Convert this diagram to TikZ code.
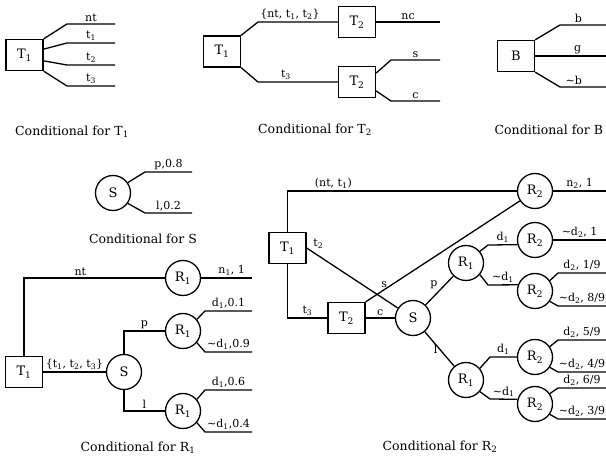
\documentclass[tikz,border=0pt]{standalone}
\usepackage{fontspec}
\setmainfont{DejaVu Serif}
\newcommand{\sbx}[1]{\textsubscript{#1}}
\begin{document}
\begin{tikzpicture}[x=1pt,y=-1pt, line width=1.3pt,
  box/.style={draw, minimum width=37pt, minimum height=31pt, inner sep=0pt, font=\fontsize{13}{15}\selectfont},
  circ/.style={draw, circle, minimum size=35pt, inner sep=0pt, font=\fontsize{13}{15}\selectfont},
  lab/.style={font=\fontsize{11}{13}\selectfont, inner sep=1.5pt},
  captxt/.style={font=\fontsize{12.5}{14}\selectfont, inner sep=0pt}]
\useasboundingbox (0,0) rectangle (606,462);

% ---------- Conditional for T1
\node[box] (aT) at (24.5,55) {T\sbx{1}};
\coordinate (a1) at (115,24);
\coordinate (a2) at (115,43);
\coordinate (a3) at (115,65);
\coordinate (a4) at (115,86);
\draw (aT.north east) -- (67,24) -- node[lab,above]{nt} (a1);
\draw (aT.17) -- (67,43) -- node[lab,above]{t\sbx{1}} (a2);
\draw (aT.-17) -- (67,65) -- node[lab,above]{t\sbx{2}} (a3);
\draw (aT.south east) -- (67,86) -- node[lab,above]{t\sbx{3}} (a4);
\node[captxt] (aC) at (72,132) {Conditional for T\sbx{1}};

% ---------- Conditional for T2
\node[box] (bT) at (222,51.5) {T\sbx{1}};
\node[box] (bU) at (357,22) {T\sbx{2}};
\node[box] (bV) at (357,82) {T\sbx{2}};
\coordinate (b1) at (440,22);
\coordinate (b2) at (440,60);
\coordinate (b3) at (440,101);
\draw (bT.north east) -- (258,22) -- node[lab,above,pos=0.4]{\{nt, t\sbx{1}, t\sbx{2}\}} (bU);
\draw (bT.south east) -- (258,82) -- node[lab,above,pos=0.35]{t\sbx{3}} (bV);
\draw (bU) -- node[lab,above]{nc} (b1);
\draw (bV.25) -- (391,60) -- node[lab,above]{s} (b2);
\draw (bV.-25) -- (391,101) -- node[lab,above]{c} (b3);
\node[captxt] (bC) at (315,130) {Conditional for T\sbx{2}};

% ---------- Conditional for B
\node[box] (cB) at (516,56) {B};
\coordinate (c1) at (606,25);
\coordinate (c2) at (606,56);
\coordinate (c3) at (606,87);
\draw (cB.north east) -- (560,25) -- node[lab,above,pos=0.4]{b} (c1);
\draw (cB) -- node[lab,above,pos=0.6]{g} (c2);
\draw (cB.south east) -- (560,87) -- node[lab,above,pos=0.3]{\textasciitilde b} (c3);
\node[captxt,anchor=west] (cC) at (494,130) {Conditional for B};

% ---------- Conditional for S
\node[circ] (dS) at (113,193) {S};
\coordinate (d1) at (192,172);
\coordinate (d2) at (192,213);
\draw (dS.35) -- (145,172) -- node[lab,above]{p,0.8} (d1);
\draw (dS.-35) -- (145,213) -- node[lab,above]{l,0.2} (d2);
\node[captxt] (dC) at (143,239) {Conditional for S};

% ---------- Conditional for R1
\node[box] (eT) at (24,372) {T\sbx{1}};
\node[circ] (eS) at (124,372) {S};
\node[circ] (eR1) at (183,278) {R\sbx{1}};
\node[circ] (eR2) at (183,331) {R\sbx{1}};
\node[circ] (eR3) at (183,411) {R\sbx{1}};
\coordinate (e1) at (252,278);
\coordinate (e2) at (252,311);
\coordinate (e3) at (252,352);
\coordinate (e4) at (252,390);
\coordinate (e5) at (252,432);
\draw (eT.north) -- (24,278) -- node[lab,above,pos=0.4]{nt} (eR1);
\draw (eT) -- node[lab,above]{\{t\sbx{1}, t\sbx{2}, t\sbx{3}\}} (eS);
\draw (eS.north) -- (124,331) -- node[lab,above]{p} (eR2);
\draw (eS.south) -- (124,411) -- node[lab,above]{l} (eR3);
\draw (eR1) -- node[lab,above,pos=0.6]{n\sbx{1}, 1} (e1);
\draw (eR2.40) -- (205,311) -- node[lab,above]{d\sbx{1},0.1} (e2);
\draw (eR2.-40) -- (205,352) -- node[lab,above]{\textasciitilde d\sbx{1},0.9} (e3);
\draw (eR3.40) -- (205,390) -- node[lab,above]{d\sbx{1},0.6} (e4);
\draw (eR3.-40) -- (205,432) -- node[lab,above]{\textasciitilde d\sbx{1},0.4} (e5);
\node[captxt] (eC) at (138,448) {Conditional for R\sbx{1}};

% ---------- Conditional for R2
\node[box] (fT) at (287.5,248) {T\sbx{1}};
\node[box] (fU) at (346.5,318) {T\sbx{2}};
\node[circ] (fS) at (413,318) {S};
\node[circ] (fA) at (535,191) {R\sbx{2}};
\node[circ] (fP) at (466,263) {R\sbx{1}};
\node[circ] (fQ) at (466,380) {R\sbx{1}};
\node[circ] (fB) at (535,240) {R\sbx{2}};
\node[circ] (fC) at (535,291) {R\sbx{2}};
\node[circ] (fD) at (535,357) {R\sbx{2}};
\node[circ] (fE) at (535,404) {R\sbx{2}};
\coordinate (g1) at (606,191);
\coordinate (g2) at (606,240);
\coordinate (g3) at (606,273);
\coordinate (g4) at (606,306);
\coordinate (g5) at (606,340);
\coordinate (g6) at (606,372);
\coordinate (g7) at (606,388);
\coordinate (g8) at (606,419);
\draw (fT.north) -- (287.5,191) -- node[lab,above,pos=0.2]{(nt, t\sbx{1})} (fA);
\draw (fT.east) -- node[lab,above right,pos=0.05]{t\sbx{2}} (fS);
\draw (fT.south) -- (287.5,318) -- node[lab,above]{t\sbx{3}} (fU);
\draw (fU) -- node[lab,above]{c} (fS);
\draw (fU.north east) -- node[lab,above,pos=0.12]{s} (fA);
\draw (fS) -- node[lab,above left]{p} (fP);
\draw (fS) -- node[lab,left]{l} (fQ);
\draw (fA) -- node[lab,above]{n\sbx{2}, 1} (g1);
\draw (fP.40) -- (488,245) -- node[lab,above]{d\sbx{1}} (fB.195);
\draw (fP.-40) -- (488,285) -- node[lab,above]{\textasciitilde d\sbx{1}} (fC.160);
\draw (fB) -- node[lab,above]{\textasciitilde d\sbx{2}, 1} (g2);
\draw (fC.35) -- (558,273) -- node[lab,above]{d\sbx{2}, 1/9} (g3);
\draw (fC.-35) -- (558,306) -- node[lab,above]{\textasciitilde d\sbx{2}, 8/9} (g4);
\draw (fQ.40) -- (490,357) -- node[lab,above]{d\sbx{1}} (fD.west);
\draw (fQ.-40) -- (490,399) -- node[lab,above]{\textasciitilde d\sbx{1}} (fE.165);
\draw (fD.35) -- (558,340) -- node[lab,above]{d\sbx{2}, 5/9} (g5);
\draw (fD.-35) -- (558,372) -- node[lab,above]{\textasciitilde d\sbx{2}, 4/9} (g6);
\draw (fE.35) -- (558,388) -- node[lab,above]{d\sbx{2}, 6/9} (g7);
\draw (fE.-35) -- (558,419) -- node[lab,above]{\textasciitilde d\sbx{2}, 3/9} (g8);
\node[captxt] (fC2) at (440,447) {Conditional for R\sbx{2}};
\end{tikzpicture}
\end{document}
